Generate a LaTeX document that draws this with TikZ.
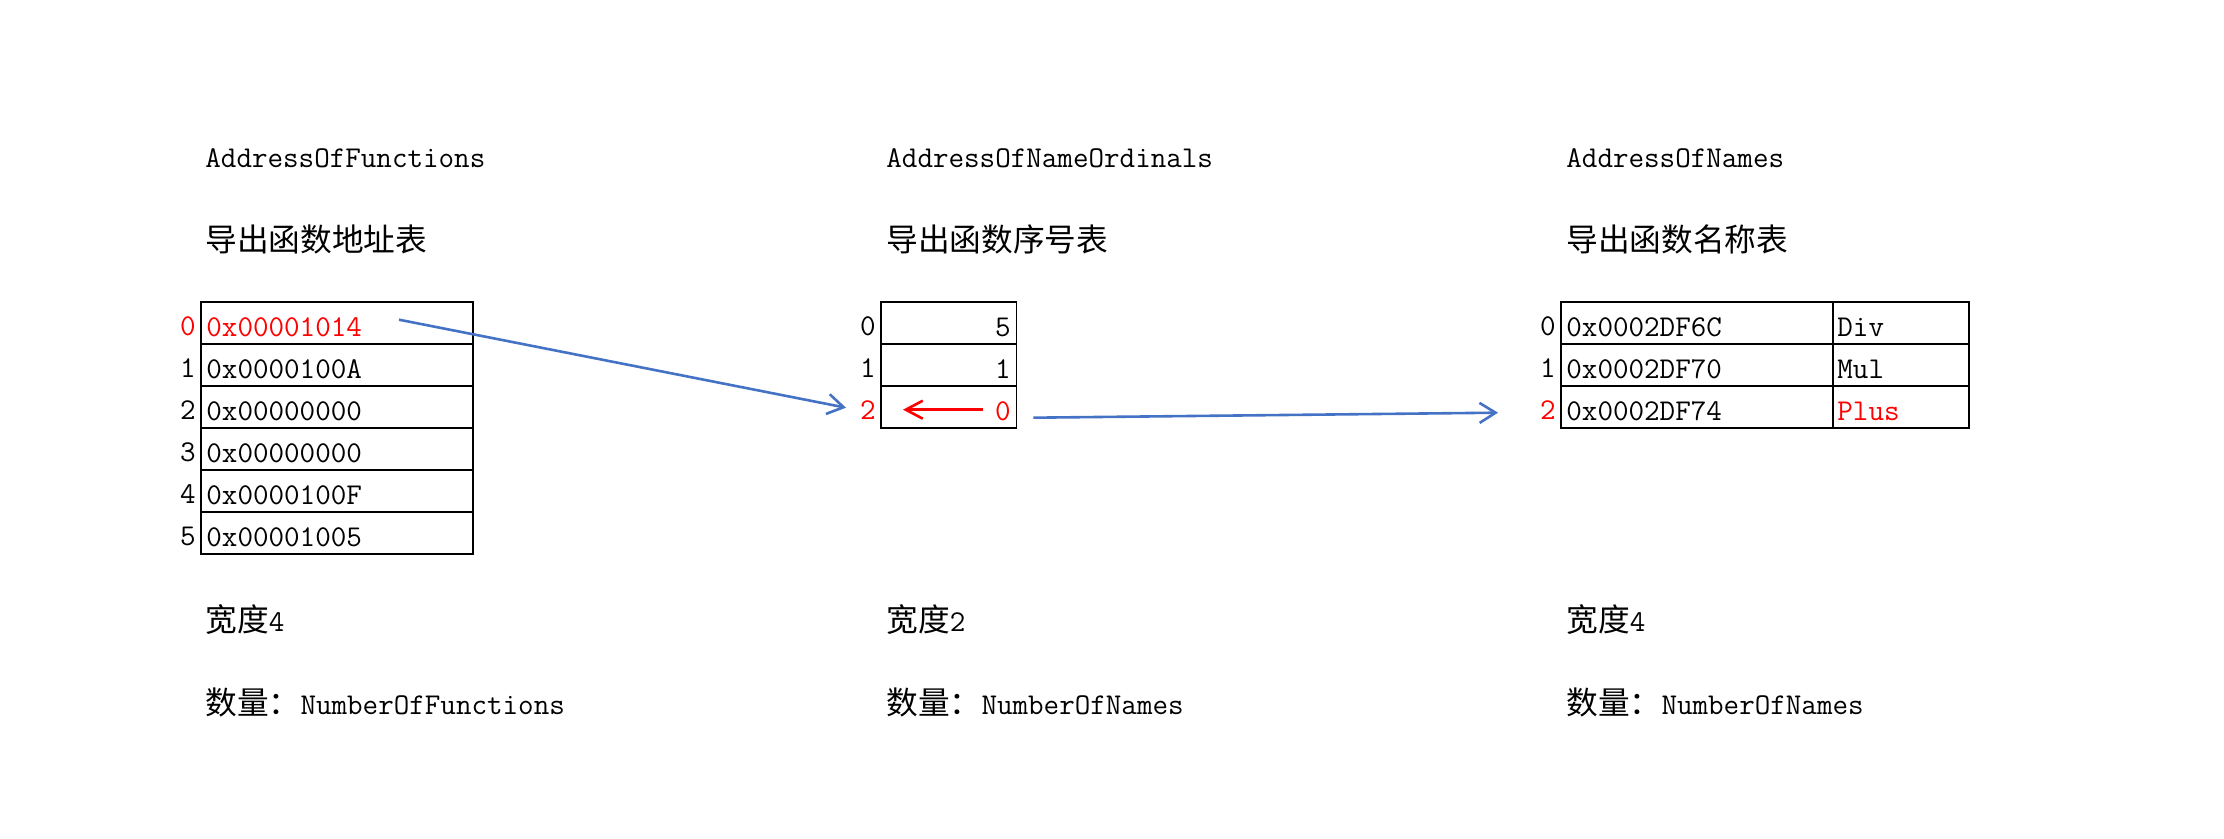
\documentclass[tikz,border=0pt]{standalone}
\usepackage{fontspec}
\usetikzlibrary{arrows.meta}
\newfontfamily\cjk{Noto Sans CJK SC}
\newcommand\latfont{\ttfamily\fontsize{15.1pt}{18pt}\selectfont}
\newcommand\cjkfont{\cjk\fontsize{15.85pt}{19pt}\selectfont}
\definecolor{arrowblue}{HTML}{4472C4}
\definecolor{hired}{HTML}{FF0000}
\begin{document}
\begin{tikzpicture}[x=0.5pt,y=-0.5pt,
  cell/.style={draw, line width=0.7pt, minimum height=21pt, inner ysep=0pt,
    text height=13.5pt, text depth=0pt, anchor=north west, font=\latfont},
  lcell/.style={cell, align=left, inner xsep=2.7pt, text width=130.6pt},
  rcell/.style={cell, align=right, inner xsep=3pt, text width=61.85pt},
  ncell/.style={cell, align=left, inner xsep=2.2pt, text width=63.6pt},
  idx/.style={font=\latfont, anchor=base, inner sep=0pt},
  hdr/.style={font=\latfont, anchor=base west, inner sep=0pt},
  chdr/.style={font=\cjkfont, anchor=base west, inner sep=0pt},
  bluearrow/.style={draw=arrowblue, line width=1.3pt, -{Straight Barb[length=8pt,width=10pt]}},
  redarrow/.style={draw=hired, line width=1.3pt, -{Straight Barb[length=8.5pt,width=9pt]}}
]
\useasboundingbox (0,0) rectangle (2224,839);

% ---------- column 1 ----------
\node[hdr] (h1) at (205,168) {AddressOfFunctions};
\node[chdr] (c1) at (205,252) {导出函数地址表};
\node[lcell, text=hired] (f0) at (200.3,301.3) {0x00001014};
\node[lcell] (f1) at (200.3,343.3) {0x0000100A};
\node[lcell] (f2) at (200.3,385.3) {0x00000000};
\node[lcell] (f3) at (200.3,427.3) {0x00000000};
\node[lcell] (f4) at (200.3,469.3) {0x0000100F};
\node[lcell] (f5) at (200.3,511.3) {0x00001005};
\node[idx, text=hired] (fi0) at (188,335.8) {0};
\node[idx] (fi1) at (188,377.8) {1};
\node[idx] (fi2) at (188,419.8) {2};
\node[idx] (fi3) at (188,461.8) {3};
\node[idx] (fi4) at (188,503.8) {4};
\node[idx] (fi5) at (188,545.8) {5};
\node[chdr] (w1) at (205,632) {宽度{\latfont 4}};
\node[chdr] (q1) at (205,714) {数量：{\latfont NumberOfFunctions}};

% ---------- column 2 ----------
\node[hdr] (h2) at (886,168) {AddressOfNameOrdinals};
\node[chdr] (c2) at (886,252) {导出函数序号表};
\node[rcell] (o0) at (880.3,301.3) {5};
\node[rcell] (o1) at (880.3,343.3) {1};
\node[rcell, text=hired] (o2) at (880.3,385.3) {0};
\node[idx] (oi0) at (868,335.8) {0};
\node[idx] (oi1) at (868,377.8) {1};
\node[idx, text=hired] (oi2) at (868,419.8) {2};
\node[chdr] (w2) at (886,632) {宽度{\latfont 2}};
\node[chdr] (q2) at (886,714) {数量：{\latfont NumberOfNames}};

% ---------- column 3 ----------
\node[hdr] (h3) at (1566,168) {AddressOfNames};
\node[chdr] (c3) at (1566,252) {导出函数名称表};
\node[lcell] (n0) at (1560.3,301.3) {0x0002DF6C};
\node[lcell] (n1) at (1560.3,343.3) {0x0002DF70};
\node[lcell] (n2) at (1560.3,385.3) {0x0002DF74};
\node[ncell] (m0) at (1832.3,301.3) {Div};
\node[ncell] (m1) at (1832.3,343.3) {Mul};
\node[ncell, text=hired] (m2) at (1832.3,385.3) {Plus};
\node[idx] (ni0) at (1548,335.8) {0};
\node[idx] (ni1) at (1548,377.8) {1};
\node[idx, text=hired] (ni2) at (1548,419.8) {2};
\node[chdr] (w3) at (1566,632) {宽度{\latfont 4}};
\node[chdr] (q3) at (1566,714) {数量：{\latfont NumberOfNames}};

% ---------- arrows ----------
\draw[bluearrow] ([xshift=99.35pt,yshift=1.65pt]f0.west) -- ([xshift=-17.15pt,yshift=-0.35pt]o2.west);
\draw[bluearrow] ([xshift=8pt,yshift=-5.35pt]o2.east) -- ([xshift=-31.15pt,yshift=-2.85pt]n2.west);
\draw[redarrow] ([xshift=51.35pt,yshift=-1.35pt]o2.west) -- ([xshift=11.35pt,yshift=-1.35pt]o2.west);
\end{tikzpicture}
\end{document}
